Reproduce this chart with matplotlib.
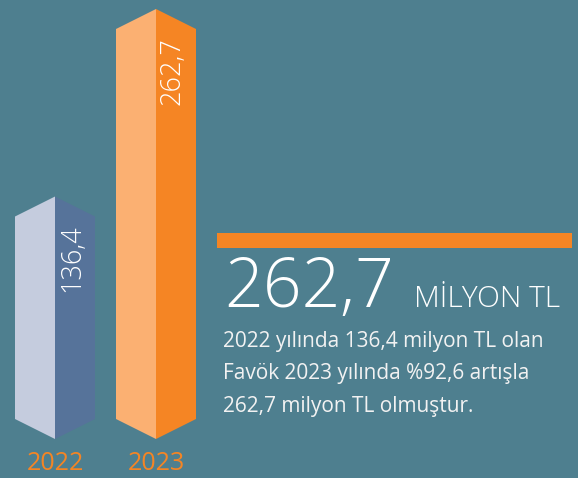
import matplotlib.pyplot as plt
from matplotlib.patches import Polygon

years = ['2022', '2023']
values = [136.4, 262.7]
value_labels = ['136,4', '262,7']
headline_value = '262,7'
headline_unit = 'MİLYON TL'
summary = ['2022 yılında 136,4 milyon TL olan',
           'Favök 2023 yılında %92,6 artışla',
           '262,7 milyon TL olmuştur.']

bg = '#4E7F8F'
left_cols = ['#C5CCDE', '#FBB072']
right_cols = ['#56739A', '#F58524']
orange = '#F58524'
font = 'Open Sans'

W, H = 578, 478
fig = plt.figure(figsize=(W / 100, H / 100), dpi=100, facecolor=bg)


def fp(x, y):
    # pixel (from top-left) -> figure fraction
    return x / W, 1 - y / H


# bars axis: 0 sits at pixel row 419, 262.7 at row 29
base = 419
upp = 262.7 / (base - 29)
ax = fig.add_axes([4.5 / W, 0, 202 / W, 1])
ax.set_xlim(-0.5, 1.5)
ax.set_ylim(-(H - base) * upp, base * upp)
ax.axis('off')

w = 40 / 101
d = 20 * upp
for i, v in enumerate(values):
    left = [(i - w, 0), (i - w, v), (i, v + d), (i, -d)]
    right = [(i, -d), (i, v + d), (i + w, v), (i + w, 0)]
    ax.add_patch(Polygon(left, closed=True, color=left_cols[i], lw=0))
    ax.add_patch(Polygon(right, closed=True, color=right_cols[i], lw=0))
    ax.text(i + w / 2 - 0.03, v - 8 * upp, value_labels[i], rotation=90,
            ha='center', va='top', color='white', fontsize=19.5, family=font,
            fontweight='light')
    ax.text(i, -(464 - base) * upp, years[i], ha='center', va='center',
            color=orange, fontsize=18, family=font)

# orange rule on the right
fig.patches.append(plt.Rectangle(fp(217, 248), 355 / W, 15 / H,
                                 transform=fig.transFigure, color=orange, lw=0))

x0, y0 = fp(224, 307)
fig.text(x0, y0, headline_value, color='white', fontsize=49, family=font,
         fontweight='light', va='baseline', ha='left')
x1, y1 = fp(414, 307)
fig.text(x1, y1, headline_unit, color='white', fontsize=21.5, family=font,
         fontweight='light', va='baseline', ha='left')

for k, line in enumerate(summary):
    x, y = fp(223, 347 + k * 32.5)
    fig.text(x, y, line, color='#F2F2F2', fontsize=15, family=font,
             va='baseline', ha='left')

fig.savefig('out.png', dpi=100, facecolor=bg)
